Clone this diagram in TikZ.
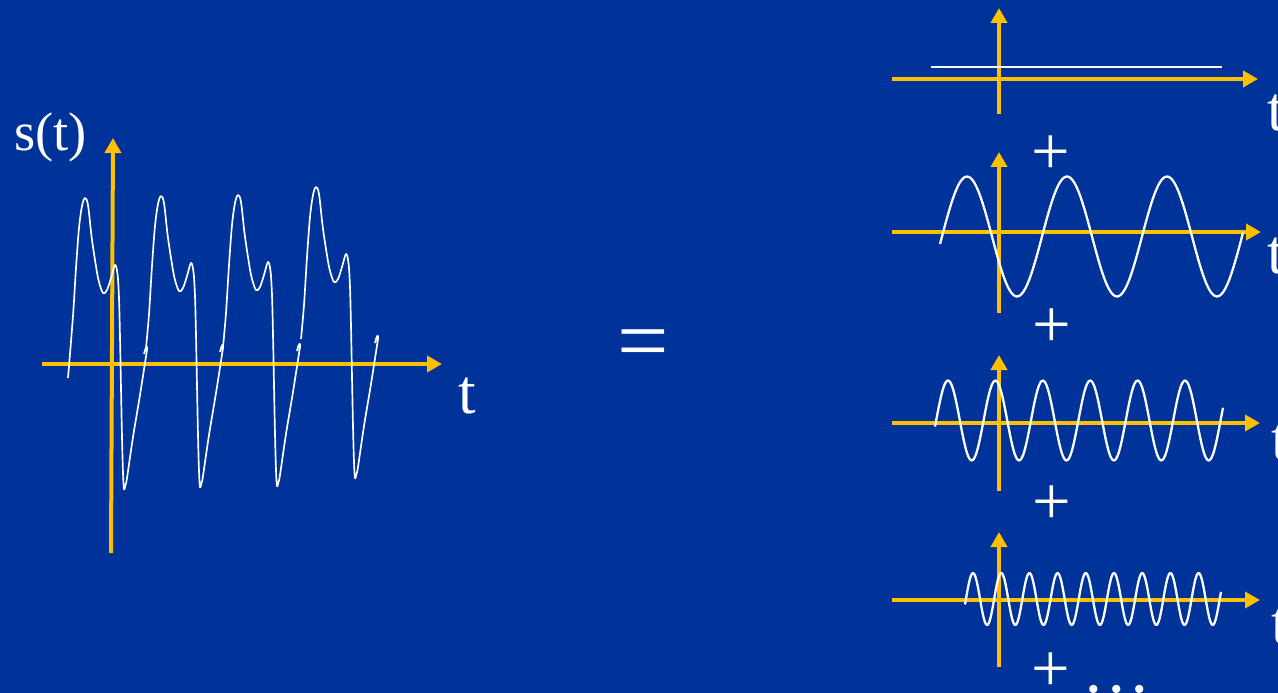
\documentclass[tikz,border=0pt]{standalone}
\usepackage{fontspec}
\setmainfont{Liberation Serif}
\usetikzlibrary{arrows.meta}
\definecolor{SIGbg}{HTML}{003399}
\definecolor{SIGaxis}{HTML}{FFC000}
\tikzset{
  axisarr/.style={draw=SIGaxis, line width=0.08cm, -{Triangle[length=0.30cm, width=0.32cm]}},
  sigline/.style={draw=white, line width=0.95pt, line join=round},
  waveline/.style={draw=white, line width=1.3pt, line join=round},
  flatline/.style={draw=white, line width=1.1pt},
  tlabel/.style={text=white, inner sep=0pt, anchor=base west, font=\fontsize{36}{40}\selectfont},
  plabel/.style={text=white, inner sep=0pt, font=\fontsize{39}{44}\selectfont},
  slabel/.style={text=white, inner sep=0pt, anchor=base west, font=\fontsize{31}{36}\selectfont},
  eqlabel/.style={text=white, inner sep=0pt, anchor=base, font=\fontsize{52}{56}\selectfont}
}
\begin{document}
\begin{tikzpicture}[x=0.02cm, y=-0.02cm]
\useasboundingbox (0,0) rectangle (1278,693);
\fill[SIGbg] (0,0) rectangle (1278,693);
% s(t)
\draw[axisarr] (42,364) -- (442,364);
\draw[axisarr] (111,553) -- (113,138);
\foreach \px/\py/\sx/\sy in {85/198/-17/180, 161/196/-15/152, 238/195/-15/152, 316/187/-15/152}
  \draw[sigline, shift={(\px,\py)}] plot[smooth, tension=0.55] coordinates {(\sx,\sy) (-12,118) (-9,70) (-6,30) (-3,8) (0,0) (3,7) (6.5,38) (10,62) (13.5,82) (18,95) (22,92) (26,80) (30,67) (32.5,76) (34,100) (35,139) (36,190) (37,239) (38,275) (39,291) (40.5,287) (42,280) (48,239) (55,197) (62,152)}
    .. controls (62.6,147) and (61,147) .. (59,156);
\node[slabel] (sLbl) at (14,150) {s(t)};
\node[tlabel] (tMain) at (458,413) {t};
\node[eqlabel] (eq) at (643,371) {=};
% components
\draw[axisarr] (892,79) -- (1258,79);
\draw[axisarr] (999,114) -- (999,8);
\draw[flatline] (931,67) -- (1222,67);
\draw[axisarr] (892,232) -- (1261,232);
\draw[axisarr] (999,313) -- (999,152);
\draw[waveline] plot[domain=940:1243, samples=150, smooth] (\x, {236.5-60*cos(3.6*(\x-967))});
\draw[axisarr] (892,423) -- (1260,423);
\draw[axisarr] (999,491) -- (999,355);
\draw[waveline] plot[domain=935:1223, samples=200, smooth] (\x, {420.5-40*cos(7.5949*(\x-948))});
\draw[axisarr] (892,600) -- (1260,600);
\draw[axisarr] (999,667) -- (999,532);
\draw[waveline] plot[domain=965:1221, samples=260, smooth] (\x, {599-26*cos(12.766*(\x-973))});
\node[tlabel] (t1) at (1267,130) {t};
\node[tlabel] (t2) at (1267,273) {t};
\node[tlabel] (t3) at (1271,459) {t};
\node[tlabel] (t4) at (1271,643) {t};
\node[plabel] (p1) at (1051,155) {+};
\node[plabel] (p2) at (1052,328) {+};
\node[plabel] (p3) at (1052,505) {+};
\node[plabel] (p4) at (1051,672) {+};
\node[plabel, anchor=base] (more) at (1117,692) {…};
\end{tikzpicture}
\end{document}
